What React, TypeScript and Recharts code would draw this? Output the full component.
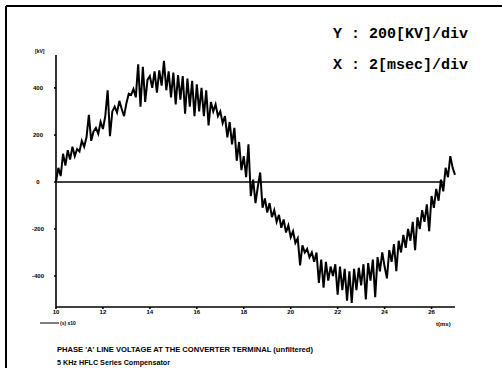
import React from 'react';
import { LineChart, Line, XAxis, YAxis, ReferenceLine } from 'recharts';

// Voltage samples [kV], one every 0.1 ms (10.0 ms .. 27.0 ms)
const volts10 = [0, 60, 25, 120, 70, 135, 95, 150, 110, 140];
const volts11 = [130, 175, 150, 190, 285, 175, 215, 230, 205, 255];
const volts12 = [225, 280, 390, 195, 300, 320, 295, 345, 310, 280];
const volts13 = [335, 375, 370, 395, 360, 500, 320, 490, 340, 435];
const volts14 = [450, 400, 470, 380, 475, 410, 515, 390, 470, 360];
const volts15 = [465, 330, 455, 350, 450, 290, 440, 320, 430, 280];
const volts16 = [415, 300, 400, 280, 390, 240, 340, 300, 330, 280];
const volts17 = [300, 250, 280, 190, 255, 160, 230, 90, 170, 50];
const volts18 = [110, 20, 160, -60, 10, -90, -20, 40, -110, -70];
const volts19 = [-130, -90, -150, -120, -170, -140, -195, -160, -215, -185];
const volts20 = [-235, -210, -260, -240, -355, -270, -300, -285, -320, -300];
const volts21 = [-340, -300, -430, -330, -450, -340, -420, -360, -400, -350];
const volts22 = [-480, -360, -460, -370, -505, -380, -515, -370, -460, -365];
const volts23 = [-440, -350, -500, -345, -420, -330, -490, -320, -380, -300];
const volts24 = [-360, -410, -290, -340, -265, -380, -250, -300, -225, -280];
const volts25 = [-200, -250, -170, -290, -150, -200, -120, -170, -95, -210];
const volts26 = [-60, -110, -30, -80, 10, -40, 60, 20, 110, 60];
const volts27 = [30];

const startMs = 10;
const stepMs = 0.1;

const xTicks = [10, 12, 14, 16, 18, 20, 22, 24, 26];
const yTicks = [-400, -200, 0, 200, 400];

const allVolts = [
  ...volts10, ...volts11, ...volts12, ...volts13, ...volts14, ...volts15,
  ...volts16, ...volts17, ...volts18, ...volts19, ...volts20, ...volts21,
  ...volts22, ...volts23, ...volts24, ...volts25, ...volts26, ...volts27,
];

const data = allVolts.map((v, i) => ({
  t: Math.round((startMs + i * stepMs) * 10) / 10,
  v,
}));

const smallFont = 'Arial, "Liberation Sans", sans-serif';
const monoFont = '"Liberation Mono", "DejaVu Sans Mono", monospace';

const YTick = ({ x, y, payload }: any) => (
  <text
    x={x - 14}
    y={y}
    dy={2}
    textAnchor="middle"
    fontSize={6}
    fontWeight="bold"
    fontFamily={smallFont}
    fill="#000"
  >
    {payload.value}
  </text>
);

export default function App() {
  return (
    <div style={{ position: 'fixed', left: 0, top: 0, width: 502, height: 368, background: '#fff' }}>
      <LineChart
        width={502}
        height={368}
        data={data}
        margin={{ top: 55, right: 47, bottom: 41, left: 36 }}
      >
        <XAxis
          dataKey="t"
          type="number"
          domain={[10, 27]}
          ticks={xTicks}
          height={20}
          tickSize={2}
          tickMargin={1}
          stroke="#000"
          strokeWidth={1.6}
          tick={{ fill: '#000', fontSize: 6, fontWeight: 'bold', fontFamily: smallFont }}
        />
        <YAxis
          type="number"
          domain={[-532, 540]}
          ticks={yTicks}
          width={20}
          tickSize={2}
          stroke="#000"
          strokeWidth={1.6}
          tick={<YTick />}
        />
        <ReferenceLine
          segment={[{ x: 10, y: 0 }, { x: 26.5, y: 0 }]}
          stroke="#000"
          strokeWidth={1.6}
        />
        <Line
          type="linear"
          dataKey="v"
          stroke="#000"
          strokeWidth={2}
          dot={false}
          isAnimationActive={false}
        />
      </LineChart>

      <svg
        width={502}
        height={368}
        style={{ position: 'absolute', left: 0, top: 0, pointerEvents: 'none' }}
      >
        {/* scanned frame edges */}
        <line x1={6} y1={6} x2={502} y2={6} stroke="#000" strokeWidth={2} />
        <line x1={6} y1={6} x2={6} y2={368} stroke="#000" strokeWidth={2} />

        <text x={333} y={38} fontFamily={monoFont} fontWeight="bold" fontSize={15} fill="#000">
          Y : 200[KV]/div
        </text>
        <text x={333} y={69} fontFamily={monoFont} fontWeight="bold" fontSize={15} fill="#000">
          X : 2[msec]/div
        </text>

        <text x={35} y={53} fontSize={5} fontWeight="bold" fontFamily={smallFont} fill="#000">[kV]</text>

        <line x1={40} y1={323} x2={59} y2={323} stroke="#000" strokeWidth={1} />
        <text x={60} y={325} fontSize={5} fontWeight="bold" fontFamily={smallFont} fill="#000">(s) x10</text>
        <text x={436} y={326} fontSize={6} fontWeight="bold" fontFamily={smallFont} fill="#000">t(ms)</text>

        <text
          x={57}
          y={352}
          fontSize={7}
          fontWeight="bold"
          fontFamily={smallFont}
          fill="#000"
          textLength={256}
          lengthAdjust="spacingAndGlyphs"
        >
          PHASE 'A' LINE VOLTAGE AT THE CONVERTER TERMINAL (unfiltered)
        </text>
        <text
          x={57}
          y={365}
          fontSize={7}
          fontWeight="bold"
          fontFamily={smallFont}
          fill="#000"
          textLength={113}
          lengthAdjust="spacingAndGlyphs"
        >
          5 KHz HFLC Series Compensator
        </text>
      </svg>
    </div>
  );
}
